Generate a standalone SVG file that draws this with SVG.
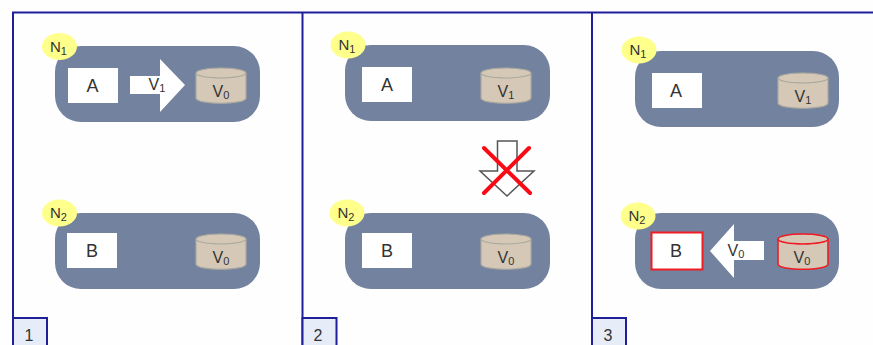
<svg xmlns="http://www.w3.org/2000/svg" width="873" height="345" viewBox="0 0 873 345">
<style>
.frame{fill:none;stroke:#1f1f9a;stroke-width:2}
.tab{fill:#e6ecf8;stroke:#1f1f9a;stroke-width:2}
.pill{fill:#73829f}
.badge{fill:#ffff8c}
.box{fill:#fff}
.hot{stroke:#f01c24;stroke-width:2}
.cyl{fill:#d5c8b6;stroke:#a9a9a0;stroke-width:1.2}
.cyl.hot,.top.hot{stroke:#f01c24;stroke-width:1.6}
.top{fill:#d5c8b6;stroke:#a9a9a0;stroke-width:1.2}
.arrow{fill:#fff}
text{font-family:"Liberation Sans",Arial,sans-serif;fill:#333;text-anchor:middle}
.l{font-size:18px}
.v{font-size:16px}
.n{font-size:15px}
.s{font-size:11px}
</style>
<defs>
<g id="cyl"><path class="cyl" d="M-25-12V13C-25 20 25 20 25 13V-12"/><ellipse class="top" cx="0" cy="-12" rx="25" ry="5"/></g>
<g id="cylhot"><path class="cyl hot" d="M-25-12V13C-25 20 25 20 25 13V-12"/><ellipse class="top hot" cx="0" cy="-12" rx="25" ry="5"/></g>
</defs>
<rect width="873" height="345" fill="#fefefe"/>
<g id="frames">
<path class="frame" d="M13 345V12.500H873M302.500 12.500V345M592 12.500V345"/>
<rect class="tab" x="13" y="318" width="34" height="30"/><text class="v" x="29" y="341">1</text>
<rect class="tab" x="302.500" y="318" width="34" height="30"/><text class="v" x="318" y="341">2</text>
<rect class="tab" x="592" y="318" width="34" height="30"/><text class="v" x="608" y="341">3</text>
</g>
<g id="p1-n1">
<rect class="pill" x="55" y="46" width="205" height="76" rx="26"/>
<ellipse class="badge" cx="59.500" cy="46.500" rx="17.500" ry="13.500"/><text class="n" x="58.500" y="52">N<tspan class="s" dy="3">1</tspan></text>
<rect class="box" x="68" y="68" width="50" height="35"/><text class="l" x="92.500" y="92">A</text>
<path class="arrow" d="M130 76H160V59L185 85L160 112V94H130Z"/><text class="v" x="157" y="90">V<tspan class="s" dy="2" font-size="12">1</tspan></text>
<use href="#cyl" x="221" y="85"/><text class="v" x="221" y="97">V<tspan class="s" dy="2">0</tspan></text>
</g>
<g id="p1-n2">
<rect class="pill" x="55" y="213" width="205" height="76" rx="26"/>
<ellipse class="badge" cx="59.500" cy="213" rx="17.500" ry="13.500"/><text class="n" x="58.500" y="218">N<tspan class="s" dy="3">2</tspan></text>
<rect class="box" x="67" y="233" width="50" height="35"/><text class="l" x="92" y="257">B</text>
<use href="#cyl" x="221" y="251"/><text class="v" x="221" y="263">V<tspan class="s" dy="2">0</tspan></text>
</g>
<g id="p2-n1">
<rect class="pill" x="345" y="45" width="205" height="76" rx="26"/>
<ellipse class="badge" cx="348" cy="45" rx="17.500" ry="13.500"/><text class="n" x="347" y="50">N<tspan class="s" dy="3">1</tspan></text>
<rect class="box" x="362" y="67" width="50" height="35"/><text class="l" x="387" y="91">A</text>
<use href="#cyl" x="506" y="85"/><text class="v" x="506" y="97">V<tspan class="s" dy="2">1</tspan></text>
</g>
<g id="p2-n2">
<rect class="pill" x="345" y="213" width="205" height="76" rx="26"/>
<ellipse class="badge" cx="347" cy="213" rx="17.500" ry="13.500"/><text class="n" x="346" y="218">N<tspan class="s" dy="3">2</tspan></text>
<rect class="box" x="362" y="233" width="50" height="35"/><text class="l" x="387" y="257">B</text>
<use href="#cyl" x="506" y="251"/><text class="v" x="506" y="263">V<tspan class="s" dy="2">0</tspan></text>
</g>
<g id="connectors">
<path d="M497.500 141H517V171H534L507 196L480 171H497.500Z" fill="#fff" stroke="#555" stroke-width="1.500"/>
<path d="M484 148L530 193M529 148L484 193" fill="none" stroke="#fa0a14" stroke-width="4" stroke-linecap="round"/>
</g>
<g id="p3-n1">
<rect class="pill" x="635" y="51" width="204" height="76" rx="26"/>
<ellipse class="badge" cx="639" cy="50" rx="17.500" ry="13.500"/><text class="n" x="638" y="55">N<tspan class="s" dy="3">1</tspan></text>
<rect class="box" x="652" y="73" width="50" height="35"/><text class="l" x="676" y="97">A</text>
<use href="#cyl" x="803" y="90"/><text class="v" x="803" y="102">V<tspan class="s" dy="2">1</tspan></text>
</g>
<g id="p3-n2">
<rect class="pill" x="635" y="213" width="204" height="76" rx="26"/>
<ellipse class="badge" cx="638" cy="216" rx="17.500" ry="13.500"/><text class="n" x="637" y="221">N<tspan class="s" dy="3">2</tspan></text>
<rect class="box hot" x="651.500" y="232.500" width="51" height="37"/><text class="l" x="676" y="257">B</text>
<path class="arrow" d="M710 251L734 224V241H764V260H734V278Z"/><text class="v" x="736" y="256">V<tspan class="s" dy="2" font-size="12">0</tspan></text>
<use href="#cylhot" x="803" y="251"/><text class="v" x="802" y="263">V<tspan class="s" dy="2">0</tspan></text>
</g>
</svg>
